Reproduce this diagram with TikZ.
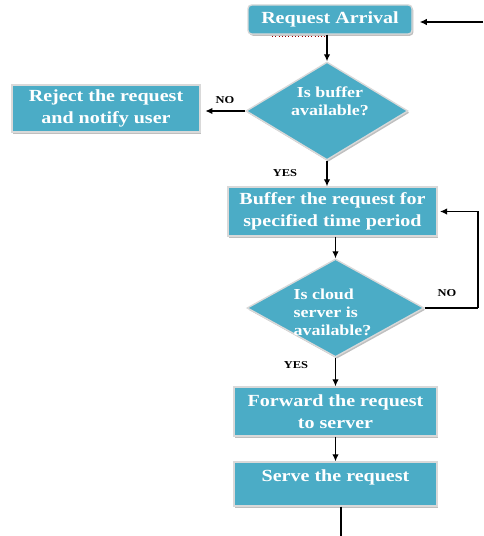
\documentclass[tikz,border=0pt]{standalone}
\usepackage{fontspec}
\setmainfont{Liberation Serif}[FakeStretch=1.18]
\usetikzlibrary{shapes.geometric,shadows,arrows.meta}
\definecolor{boxblue}{RGB}{75,172,198}
\tikzset{
  box/.style={rectangle, fill=boxblue, draw=white!85!black, line width=1.2pt,
    text=white, font=\bfseries\fontsize{14.5}{18.5}\selectfont, align=center,
    drop shadow={shadow xshift=1.2pt, shadow yshift=-1.5pt, fill=black, opacity=0.25}},
  boxtext/.style={text=white, font=\bfseries\fontsize{14.5}{18.5}\selectfont},
  decision/.style={diamond, fill=boxblue, draw=white!85!black, line width=1.2pt,
    inner sep=0pt,
    drop shadow={shadow xshift=1.2pt, shadow yshift=-1.5pt, fill=black, opacity=0.25}},
  dtext/.style={text=white, font=\bfseries\fontsize{13}{15.3}\selectfont},
  lbl/.style={font=\bfseries\fontsize{9}{10}\selectfont},
  arr/.style={-{Latex[length=6pt,width=5.5pt]}, line width=1pt},
  plain/.style={line width=1pt}
}
\begin{document}
\begin{tikzpicture}
    \useasboundingbox (0,0) rectangle (14.49,-16.08);

    \node[box, rounded corners=3pt, minimum width=4.92cm, minimum height=0.87cm] (arrival) at (9.9,-0.585) {Request Arrival};
    \node[box, minimum width=5.64cm, minimum height=1.41cm] (reject) at (3.18,-3.255) {Reject the request\\and notify user};
    \node[decision, minimum width=4.86cm, minimum height=2.94cm] (buf) at (9.81,-3.33) {};
    \node[dtext, align=center] (buft) at (9.9,-3.03) {Is buffer\\available?};
    \node[box, minimum width=6.27cm, minimum height=1.47cm] (hold) at (9.975,-6.345) {Buffer the request for\\specified time period};
    \node[decision, minimum width=5.31cm, minimum height=2.94cm] (cloud) at (10.065,-9.24) {};
    \node[dtext, align=left] (cloudt) at (9.975,-9.36) {Is cloud\\server is\\available?};
    \node[box, minimum width=6.09cm, minimum height=1.47cm] (fwd) at (10.065,-12.345) {Forward the request\\to server};
    \node[box, minimum width=6.09cm, minimum height=1.32cm] (serve) at (10.065,-14.52) {};
    \node[boxtext] (servet) at (10.065,-14.31) {Serve the request};

    \coordinate (entry) at (14.49,-0.66);
    \coordinate (loop) at (14.34,-9.24);
    \coordinate (exit) at (10.23,-16.08);

    \draw[red!60!black, dotted, line width=0.8pt] (8.16,-1.08) -- (9.75,-1.08);

    \draw[arr, shorten >=6pt] (entry) -- (entry -| arrival.east);
    \draw[arr] (buf.north |- arrival.south) -- (buf.north);
    \draw[arr, shorten >=4pt] (buf.west) -- (buf.west -| reject.east);
    \draw[arr] (buf.south) -- (buf.south |- hold.north);
    \draw[arr] (hold.south -| cloud.north) -- (cloud.north);
    \draw[plain] (cloud.east) -- (loop);
    \draw[arr, shorten >=2pt] (loop) |- (hold.east);
    \draw[arr] (cloud.south) -- (fwd.north);
    \draw[arr] (fwd.south) -- (serve.north);
    \draw[plain] (serve.south -| exit) -- (exit);

    \node[lbl] (no1) at (6.75,-3.0) {NO};
    \node[lbl] (yes1) at (8.55,-5.19) {YES};
    \node[lbl] (no2) at (13.41,-8.79) {NO};
    \node[lbl] (yes2) at (8.88,-10.95) {YES};
\end{tikzpicture}
\end{document}
